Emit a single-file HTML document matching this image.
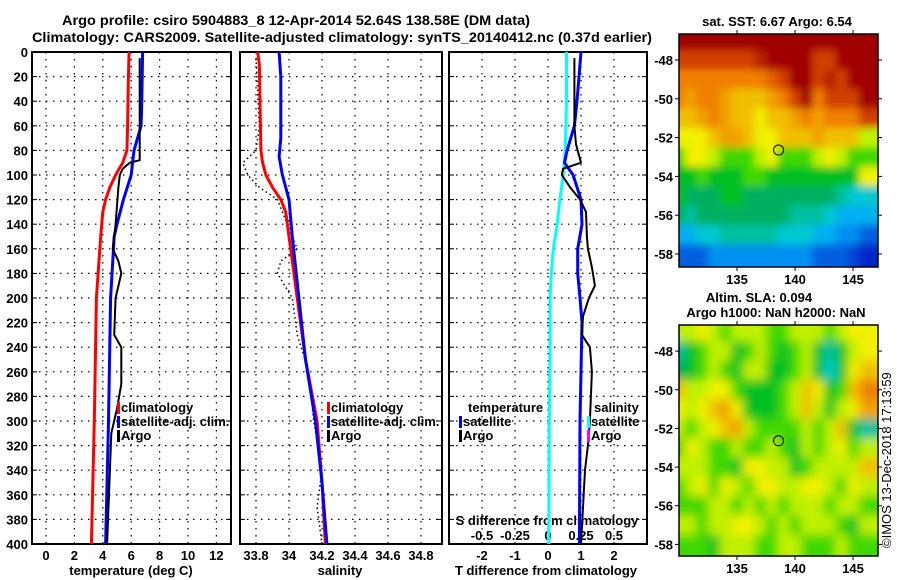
<!DOCTYPE html>
<html><head><meta charset="utf-8">
<style>
html,body{margin:0;padding:0;background:#fff;}
svg{display:block;font-family:"Liberation Sans",Arial,sans-serif;}
text{font-size:13px;font-weight:bold;fill:#000;}
</style></head>
<body>
<svg id="chart" width="900" height="580" viewBox="0 0 900 580" xmlns="http://www.w3.org/2000/svg">
<defs>
<clipPath id="c1"><rect x="32" y="52" width="199" height="492"/></clipPath>
<clipPath id="c2"><rect x="240" y="52" width="202" height="492"/></clipPath>
<clipPath id="c3"><rect x="449" y="52" width="198" height="492"/></clipPath>
<clipPath id="cm1"><rect x="679" y="34" width="199" height="233"/></clipPath>
<clipPath id="cm2"><rect x="679" y="325" width="199" height="231"/></clipPath>
<filter id="b1" x="0" y="0" width="1" height="1"><feGaussianBlur stdDeviation="4" edgeMode="duplicate"/></filter>
<filter id="b2" x="0" y="0" width="1" height="1"><feGaussianBlur stdDeviation="5" edgeMode="duplicate"/></filter>
</defs>
<text x="62" y="25" textLength="468" lengthAdjust="spacingAndGlyphs" style="font-size:14px">Argo profile: csiro 5904883_8 12-Apr-2014 52.64S 138.58E (DM data)</text>
<text x="32" y="42" textLength="620" lengthAdjust="spacingAndGlyphs" style="font-size:14px">Climatology: CARS2009. Satellite-adjusted climatology: synTS_20140412.nc (0.37d earlier)</text>
<g id="layer"></g>
</svg>
<script>
// ---- data ----
const depthTicks = [0,20,40,60,80,100,120,140,160,180,200,220,240,260,280,300,320,340,360,380,400];
const tempTicks = [0,2,4,6,8,10,12];
const salTicks = [33.8,34,34.2,34.4,34.6,34.8];
const tdiffTicks = [-2,-1,0,1,2];
const sdiffTicks = [-0.5,-0.25,0,0.25,0.5];
const sdiffTickLabels = ["-0.5","-0.25","0","0.25","0.5"];

const tempClimDepth = [0,20,60,80,90,100,110,120,130,150,200,300,400];
const tempClimVal   = [5.85,5.8,5.75,5.7,5.4,4.9,4.5,4.2,4.0,3.85,3.55,3.4,3.2];
const tempSatDepth  = [0,40,60,80,100,120,140,150,200,300,400];
const tempSatVal    = [6.8,6.75,6.7,6.2,6.0,5.45,5.0,4.8,4.55,4.4,4.2];
const tempArgoDepth = [5,60,88,90,95,100,110,140,160,170,180,200,230,240,270,290,310,340,400];
const tempArgoVal   = [6.6,6.6,6.6,5.9,5.4,5.2,5.1,4.9,4.7,5.1,5.3,4.9,4.8,5.3,5.3,5.0,4.6,4.5,4.3];

const salClimDepth = [0,10,80,90,100,110,120,130,150,170,200,250,300,350,400];
const salClimVal   = [33.81,33.82,33.83,33.84,33.86,33.9,33.95,33.98,34.0,34.02,34.05,34.1,34.17,34.2,34.22];
const salSatDepth  = [0,20,70,85,100,120,150,200,250,300,350,400];
const salSatVal    = [33.94,33.95,33.95,33.94,33.96,34.0,34.02,34.06,34.1,34.16,34.2,34.23];
const salArgoDepth = [5,60,80,90,100,110,120,150,160,170,180,200,230,260,300,340,370,400];
const salArgoVal   = [33.8,33.82,33.8,33.72,33.75,33.82,33.93,34.02,34.05,33.95,33.93,34.02,34.05,34.12,34.15,34.2,34.17,34.2];

const sdiffSatDepth = [0,40,80,100,120,140,160,180,200,240,300,400];
const sdiffSatVal   = [0.14,0.14,0.13,0.115,0.09,0.07,0.04,0.025,0.015,0.015,0.01,0.005];
const tdiffSatDepth = [0,40,60,80,90,100,120,140,160,180,200,220,260,300,400];
const tdiffSatVal   = [1.0,0.88,0.8,0.58,0.5,0.76,1.0,1.03,0.9,0.9,0.97,1.03,1.0,0.97,0.95];
const tdiffArgoDepth = [5,60,75,90,95,100,110,120,130,150,160,175,190,200,215,230,240,260,300,320,340,400];
const tdiffArgoVal   = [0.8,0.8,0.85,1.0,0.45,0.42,0.67,0.97,1.15,1.18,1.21,1.33,1.42,1.24,1.06,1.03,1.27,1.33,1.27,1.21,1.12,1.0];

const mapLons = [130,131,132,133,134,135,136,137,138,139,140,141,142,143,144,145,146];
const mapLats = [-47,-48,-49,-50,-51,-52,-53,-54,-55,-56,-57,-58];
const sstGrid = [
[10,10,10,10,10,10,10,10,10,10,10,10,10,10,10,10,10],
[9,9,9,9,9,9,9,9.5,10,10,10,10,9,9,10,10,10],
[8,8,8,8,8,8,8,8,8.5,9,10,10,9,9.5,9,10,10],
[8,7.5,8,8,7.5,7,7,7,7.5,8,9,10,8,9,9,9,10],
[7,7,7.5,8,7.5,7,7,6.5,7,7,7.5,8,7.5,8,8,8,9],
[6.5,6.5,6.5,7,7.5,7.5,7,6.5,6.5,7,7,7,7.5,7,7,7,6],
[5.5,6.5,6.5,6,5.5,5.5,5.5,6,6.5,5.5,5.5,5.5,6,6.5,6,5.5,5.5],
[5,5,5.5,5,5,5,5.5,5.5,5,5,5,5,5,5,5,5,6.5],
[5,4.5,4.5,4.5,5,5,4.5,4.5,4.5,4.5,4.5,4.5,4.5,4.5,4,3.5,3.5],
[4.5,4,4.5,4.5,4.5,4.5,4.5,4.5,4.5,4.5,4,4,4,3.5,3,3,3],
[3,3,3.5,3.5,4,4,4,4,4,3.5,3.5,3.5,3,3,2.5,2.5,2],
[2,2,2,2.5,2.5,2.5,2.5,2.5,2.5,2.5,2.5,2.5,2,2,2,1.5,1]
];
const slaGrid = [
[6,6,6.5,6,5.5,6,6,6,5.5,5.5,6,6,6,5.5,6,6.5,6.5],
[4,5,5.5,6,6,5,5.5,6,5.5,5,5.5,6,5,4,5,6,6.5],
[4.5,5,5.5,6,5.5,5,6,6,5,5,5.5,6,5,3.5,5,6.5,7],
[7,6,6,6.5,6.5,5.5,5,5,5,5.5,6,7,6.5,5,5.5,7,8],
[6.5,6,6.5,7,7.5,6.5,5,5,5,5.5,6,7,6,5,6,6.5,7.5],
[6,5.5,6,6.5,7,7.5,6,5.5,5.5,5.5,5.5,6,5.5,6,7,5,4],
[5.5,6.5,6,5.5,5.5,6,5.5,5.5,6,5.5,5,6,5.5,6,6.5,5.5,6],
[6,6,6,5.5,5.5,5,6.5,6.5,6,6,5,5.5,6,6,6,6,7],
[5.5,6,6.5,5.5,6.5,6,5.5,6.5,6.5,6,6,6.5,6.5,6,5.5,6.5,6],
[5.5,5.5,5.5,6,6,5.5,6,5.5,6,5.5,6,6,6,5.5,6,6,5.5],
[6,6,5.5,6,6,6.5,6.5,6,5.5,6,5.5,6,6,6,5.5,5,6],
[5.5,5.5,5.5,5,6,6,6,5.5,5.5,6,6,5.5,5.5,5.5,6,5.5,5.5]
];
const mapLatTicks = [-48,-50,-52,-54,-56,-58];
const mapLonTicks = [135,140,145];
const argoLon = 138.58, argoLat = -52.64;

// ---- helpers ----
const NS = "http://www.w3.org/2000/svg";
const layer = document.getElementById('layer');
function mk(tag, attrs, parent){
  const e = document.createElementNS(NS, tag);
  for (const k in attrs) e.setAttribute(k, attrs[k]);
  (parent||layer).appendChild(e);
  return e;
}
const Y0 = 52, Y1 = 544;
const yD = d => Y0 + d*(Y1-Y0)/400;
const xT = v => 46 + v*14.2;
const xS = v => 289 + (v-34)*165;
const xTd = v => 548 + v*33;
const xSd = v => 548 + v*132;

function panel(name, x0, x1, gx, clip, leftLabels){
  const g = mk('g', {});
  
  
  depthTicks.forEach(d => {
    if (d===0 || d===400) return;
    const l = mk('line', {x1:x0, x2:x1, y1:yD(d), y2:yD(d), stroke:'#000', 'stroke-width':1.2, 'stroke-dasharray':'1.5 5.5'}, g);
    
    
    const t1 = mk('line', {x1:x0, x2:x0+5, y1:yD(d), y2:yD(d), stroke:'#000'}, g);
    
    
    const t2 = mk('line', {x1:x1-5, x2:x1, y1:yD(d), y2:yD(d), stroke:'#000'}, g);
    
    
  });
  gx.forEach(xx => {
    const l = mk('line', {x1:xx, x2:xx, y1:Y0, y2:Y1, stroke:'#000', 'stroke-width':1.2, 'stroke-dasharray':'1.5 5.5'}, g);
    
    
  });
  if (leftLabels){
    depthTicks.forEach(d => {
      const t = mk('text', {x:28, y:yD(d)+5, 'text-anchor':'end'}, g);
      t.textContent = d;
      
      
    });
  }
  const fr = mk('rect', {x:x0, y:Y0, width:x1-x0, height:Y1-Y0, fill:'none', stroke:'#000', 'stroke-width':2}, g);
  
  
  return g;
}
function line(name, depths, vals, xf, color, w, clip, dash){
  const pts = depths.map((d,i)=> xf(vals[i]).toFixed(1)+','+yD(d).toFixed(1)).join(' ');
  const p = mk('polyline', {points:pts, fill:'none', stroke:color, 'stroke-width':w, 'clip-path':'url(#'+clip+')', 'stroke-linejoin':'round'});
  if (dash) p.setAttribute('stroke-dasharray', dash);
  
  
}
function txt(name, x, y, s, anchor, extra){
  const t = mk('text', Object.assign({x:x, y:y, 'text-anchor':anchor||'start'}, extra||{}));
  t.textContent = s;
  
  
  return t;
}
function legendEntry(name, x, y, color, label){
  const r = mk('rect', {x:x, y:y-10, width:3, height:12, fill:color});
  
  
  txt(name, x+4, y, label);
}

// ---- panel 1: temperature ----
panel('temperature-panel', 32, 231, tempTicks.map(xT), 'c1', true);
tempTicks.forEach(v => txt('temp-tick-label', xT(v), 560, v, 'middle'));
txt('x-axis-title-temperature', 131, 575, 'temperature (deg C)', 'middle');
line('temp-climatology-line', tempClimDepth, tempClimVal, xT, '#ff0000', 3, 'c1');
line('temp-satellite-line', tempSatDepth, tempSatVal, xT, '#0000ff', 3, 'c1');
line('temp-argo-line', tempArgoDepth, tempArgoVal, xT, '#000', 2, 'c1');
legendEntry('legend-climatology', 117, 412, '#ff0000', 'climatology');
legendEntry('legend-satellite-adj', 117, 426, '#0000ff', 'satellite-adj. clim.');
legendEntry('legend-argo', 117, 440, '#000', 'Argo');

// ---- panel 2: salinity ----
panel('salinity-panel', 240, 442, salTicks.map(xS), 'c2', false);
salTicks.forEach(v => txt('sal-tick-label', xS(v), 560, v, 'middle'));
txt('x-axis-title-salinity', 340, 575, 'salinity', 'middle');
line('sal-argo-line', salArgoDepth, salArgoVal, xS, '#000', 1.5, 'c2', '1.5 3');
line('sal-climatology-line', salClimDepth, salClimVal, xS, '#ff0000', 3, 'c2');
line('sal-satellite-line', salSatDepth, salSatVal, xS, '#0000ff', 3, 'c2');
legendEntry('legend2-climatology', 327, 412, '#ff0000', 'climatology');
legendEntry('legend2-satellite-adj', 327, 426, '#0000ff', 'satellite-adj. clim.');
legendEntry('legend2-argo', 327, 440, '#000', 'Argo');

// ---- panel 3: differences ----
panel('difference-panel', 449, 647, tdiffTicks.map(xTd), 'c3', false);
tdiffTicks.forEach(v => txt('tdiff-tick-label', xTd(v), 560, v, 'middle'));
sdiffTicks.forEach((v,i) => txt('sdiff-tick-label', xSd(v), 540, sdiffTickLabels[i], 'middle'));
txt('s-diff-axis-title', 547, 525, 'S difference from climatology', 'middle');
txt('x-axis-title-tdiff', 546, 575, 'T difference from climatology', 'middle');
line('sdiff-satellite-line', sdiffSatDepth, sdiffSatVal, xSd, '#00ffff', 3, 'c3');
line('tdiff-satellite-line', tdiffSatDepth, tdiffSatVal, xTd, '#0000ff', 3, 'c3');
line('tdiff-argo-line', tdiffArgoDepth, tdiffArgoVal, xTd, '#000', 2, 'c3');
txt('legend3-temperature-title', 468, 412, 'temperature');
legendEntry('legend3-t-satellite', 459, 426, '#0000ff', 'satellite');
legendEntry('legend3-t-argo', 459, 440, '#000', 'Argo');
txt('legend3-salinity-title', 594, 412, 'salinity');
legendEntry('legend3-s-satellite', 587, 426, '#00ffff', 'satellite');
legendEntry('legend3-s-argo', 587, 440, '#ff00ff', 'Argo');

// ---- maps ----
const cstops = [[0,[0,16,160]],[1,[0,40,200]],[2,[0,96,224]],[2.5,[0,144,240]],[3,[0,176,240]],[3.5,[0,200,208]],[4,[0,192,160]],[4.5,[0,176,96]],[5,[0,192,32]],[5.5,[64,216,0]],[6,[192,240,0]],[6.5,[240,240,0]],[7,[240,192,0]],[8,[240,128,0]],[9,[208,64,0]],[10,[160,0,0]]];
function cmap(v){
  for (let i=1;i<cstops.length;i++){
    if (v<=cstops[i][0]){
      const a=cstops[i-1], b=cstops[i], t=(v-a[0])/(b[0]-a[0]);
      const c=a[1].map((x,k)=>Math.round(x+(b[1][k]-x)*t));
      return 'rgb('+c.join(',')+')';
    }
  }
  return 'rgb(160,0,0)';
}
function drawMap(name, grid, x0, x1, ya, yb, lonL, lonR, latT, latB, clip, filt){
  const xL = lon => x0 + (lon-lonL)*(x1-x0)/(lonR-lonL);
  const yL = lat => ya + (latT-lat)*(yb-ya)/(latT-latB);
  const g = mk('g', {'clip-path':'url(#'+clip+')'});
  
  
  const inner = mk('g', {filter:'url(#'+filt+')'}, g);
  grid.forEach((row, r) => row.forEach((v, c) => {
    const cx0 = xL(mapLons[c]-0.5), cx1 = xL(mapLons[c]+0.5);
    const cy0 = yL(mapLats[r]+0.5), cy1 = yL(mapLats[r]-0.5);
    const cell = mk('rect', {x:(c===0?x0-10:cx0), y:(r===0?ya-10:cy0), width:(c===row.length-1?x1+10:cx1)-(c===0?x0-10:cx0)+0.5, height:(r===grid.length-1?yb+10:cy1)-(r===0?ya-10:cy0)+0.5, fill:cmap(v)}, inner);
    
    
  }));
  const circ = mk('circle', {cx:xL(argoLon), cy:yL(argoLat), r:5, fill:'none', stroke:'#000', 'stroke-width':1});
  
  
  const fr = mk('rect', {x:x0, y:ya, width:x1-x0, height:yb-ya, fill:'none', stroke:'#000', 'stroke-width':1.5});
  
  
  mapLatTicks.forEach(lat => {
    const y = yL(lat);
    mk('line', {x1:x0-4, x2:x0, y1:y, y2:y, stroke:'#000'});
    mk('line', {x1:x1, x2:x1+4, y1:y, y2:y, stroke:'#000'});
    txt(name+'-lat-label', x0-6, y+5, lat, 'end');
  });
  mapLonTicks.forEach(lon => {
    const x = xL(lon);
    mk('line', {x1:x, x2:x, y1:ya-4, y2:ya, stroke:'#000'});
    mk('line', {x1:x, x2:x, y1:yb, y2:yb+4, stroke:'#000'});
    txt(name+'-lon-label', x, yb+17, lon, 'middle');
  });
}
drawMap('sst-map', sstGrid, 679, 878, 34, 267, 130.0, 147.15, -46.66, -58.67, 'cm1', 'b1');
drawMap('sla-map', slaGrid, 679, 878, 325, 556, 130.0, 147.15, -46.65, -58.6, 'cm2', 'b2');
txt('sst-map-title', 777, 26, 'sat. SST: 6.67 Argo: 6.54', 'middle');
txt('sla-map-title', 759, 302, 'Altim. SLA: 0.094', 'middle');
txt('sla-map-subtitle', 776, 317, 'Argo h1000: NaN h2000: NaN', 'middle');
txt('imos-timestamp', 0, 0, '\u00a9IMOS 13-Dec-2018 17:13:59', 'start', {transform:'translate(891,548) rotate(-90)', style:'font-weight:normal;font-size:13px'});
</script>
</body></html>
